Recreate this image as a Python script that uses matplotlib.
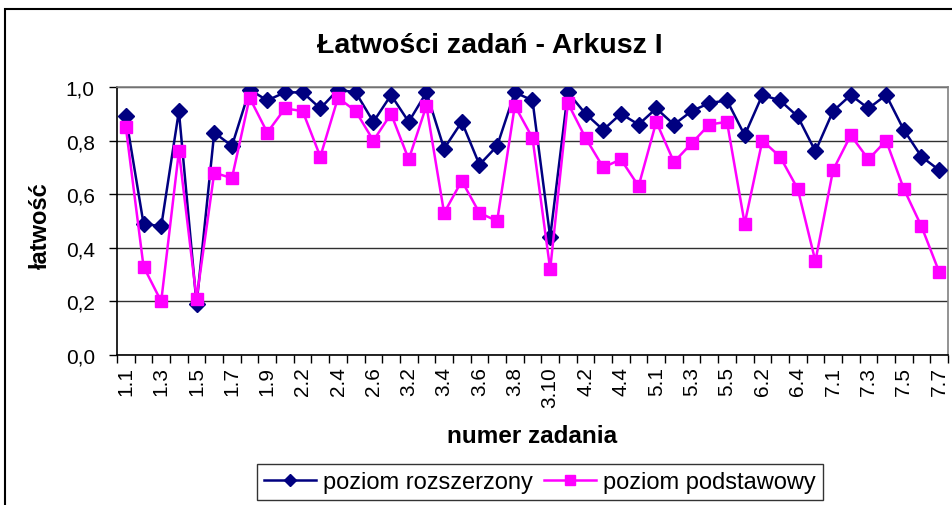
import matplotlib.pyplot as plt
from matplotlib.patches import Rectangle

plt.rcParams["font.family"] = ["Liberation Sans", "DejaVu Sans"]

zadania = [
    "1.1", "1.2", "1.3", "1.4", "1.5", "1.6", "1.7", "1.8", "1.9",
    "2.1", "2.2", "2.3", "2.4", "2.5", "2.6",
    "3.1", "3.2", "3.3", "3.4", "3.5", "3.6", "3.7", "3.8", "3.9", "3.10",
    "4.1", "4.2", "4.3", "4.4", "4.5",
    "5.1", "5.2", "5.3", "5.4", "5.5",
    "6.1", "6.2", "6.3", "6.4", "6.5",
    "7.1", "7.2", "7.3", "7.4", "7.5", "7.6", "7.7",
]
rozszerzony = [
    0.89, 0.49, 0.48, 0.91, 0.19, 0.83, 0.78, 0.99, 0.95,
    0.98, 0.98, 0.92, 0.99, 0.98, 0.87,
    0.97, 0.87, 0.98, 0.77, 0.87, 0.71, 0.78, 0.98, 0.95, 0.44,
    0.98, 0.90, 0.84, 0.90, 0.86,
    0.92, 0.86, 0.91, 0.94, 0.95,
    0.82, 0.97, 0.95, 0.89, 0.76,
    0.91, 0.97, 0.92, 0.97, 0.84, 0.74, 0.69,
]
podstawowy = [
    0.85, 0.33, 0.20, 0.76, 0.21, 0.68, 0.66, 0.96, 0.83,
    0.92, 0.91, 0.74, 0.96, 0.91, 0.80,
    0.90, 0.73, 0.93, 0.53, 0.65, 0.53, 0.50, 0.93, 0.81, 0.32,
    0.94, 0.81, 0.70, 0.73, 0.63,
    0.87, 0.72, 0.79, 0.86, 0.87,
    0.49, 0.80, 0.74, 0.62, 0.35,
    0.69, 0.82, 0.73, 0.80, 0.62, 0.48, 0.31,
]

W, H = 953, 506
fig = plt.figure(figsize=(W / 100, H / 100), dpi=100)

# outer chart border (cut off at the right and bottom in the screenshot)
fig.patches.append(Rectangle((5 / W, -0.1), 1.2, (H - 10) / H + 0.1,
                             transform=fig.transFigure, fill=False,
                             edgecolor="black", linewidth=1.5))

left, right, top, bottom = 117, 948, 88, 356
ax = fig.add_axes([left / W, (H - bottom) / H, (right - left) / W, (bottom - top) / H])

x = list(range(len(zadania)))
ax.plot(x, rozszerzony, color="#000080", lw=1.8, marker="D", ms=8,
        mfc="#000080", mec="#000080", label="poziom rozszerzony", zorder=3)
ax.plot(x, podstawowy, color="#FF00FF", lw=1.8, marker="s", ms=8.5,
        mfc="#FF00FF", mec="#FF00FF", label="poziom podstawowy", zorder=3)

ax.set_xlim(-0.5, len(zadania) - 0.5)
ax.set_ylim(0, 1.0)
yt = [0, 0.2, 0.4, 0.6, 0.8, 1.0]
ax.set_yticks(yt)
ax.set_yticklabels([f"{v:.1f}".replace(".", ",") for v in yt], fontsize=15)
ax.yaxis.grid(True, color="#303030", lw=1.0)
ax.set_axisbelow(True)

ax.set_xticks(x)
ax.set_xticklabels([z if i % 2 == 0 else "" for i, z in enumerate(zadania)],
                   rotation=90, fontsize=15)
ax.set_xticks([i - 0.5 for i in range(len(zadania) + 1)], minor=True)
ax.tick_params(axis="x", which="major", length=0, pad=8)
ax.tick_params(axis="x", which="minor", length=6, width=1, direction="out")
ax.tick_params(axis="y", length=6, width=1, direction="out", pad=10)

for s in ["left", "bottom"]:
    ax.spines[s].set_color("black")
    ax.spines[s].set_linewidth(1.2)
for s in ["top", "right"]:
    ax.spines[s].set_color("#808080")
    ax.spines[s].set_linewidth(1.2)

fig.text(490 / W, 1 - 46 / H, "Łatwości zadań - Arkusz I", ha="center", va="center",
         fontsize=20.5, fontweight="bold")
fig.text(40 / W, 1 - 226 / H, "łatwość", ha="center", va="center", rotation=90,
         fontsize=17, fontweight="bold")
fig.text(532 / W, 1 - 437 / H, "numer zadania", ha="center", va="center",
         fontsize=17.5, fontweight="bold")

leg = fig.legend(loc="center", bbox_to_anchor=(540 / W, 1 - 483 / H), ncol=2,
                 fontsize=17, frameon=True, fancybox=False, edgecolor="black",
                 handlelength=2.2, columnspacing=0.5, handletextpad=0.3,
                 borderpad=0.3, markerscale=0.8)
leg.get_frame().set_linewidth(1.0)

fig.savefig("out.png", dpi=100)
